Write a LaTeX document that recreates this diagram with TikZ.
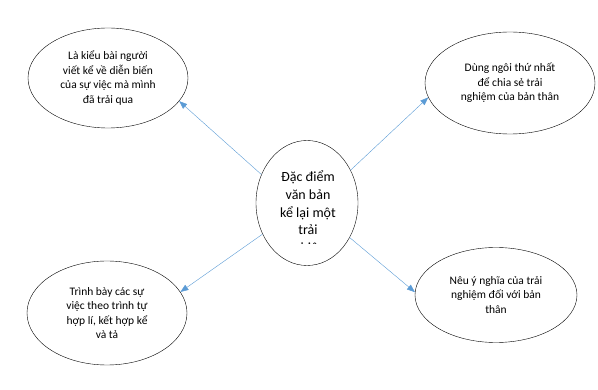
\documentclass[tikz,border=0pt]{standalone}
\usepackage{fontspec}
\setmainfont{Carlito}
\usetikzlibrary{shapes.geometric,arrows.meta}
\definecolor{linkblue}{HTML}{5B9BD5}
\tikzset{
  idea/.style={
    draw,
    ellipse,
    thin,
    inner sep=0pt,
    align=center,
    font=\fontsize{11.5}{14.5}\selectfont
  },
  link/.style={
    draw=linkblue,
    thin,
    -{Triangle[length=8pt,width=6pt]}
  }
}

\begin{document}
\begin{tikzpicture}[
  x=1pt,
  y=-1pt
]
  \useasboundingbox (0,0) rectangle (598,390);
  \node[idea,minimum width=102,minimum height=125] (hub) at (307,203) {};
  \begin{scope}
    \clip (250,150) rectangle (365,243.5);
    \node[align=center,inner sep=0pt,font=\fontsize{14}{17.7}\selectfont] (hubtext) at (308,213)
      {Đặc điểm\\văn bản\\kể lại một\\trải\\nghiệm};
  \end{scope}
  \node[idea,minimum width=160,minimum height=100] (kind) at (108,78)
    {Là kiểu bài người\\viết kể về diễn biến\\của sự việc mà mình\\đã trải qua};
  \node[idea,minimum width=170,minimum height=102] (voice) at (510,83)
    {Dùng ngôi thứ nhất\\để chia sẻ trải\\nghiệm của bản thân};
  \node[idea,minimum width=160,minimum height=104] (order) at (107,313)
    {Trình bày các sự\\việc theo trình tự\\hợp lí, kết hợp kể\\và tả};
  \node[idea,minimum width=162,minimum height=95] (meaning) at (496,295)
    {Nêu ý nghĩa của trải\\nghiệm đối với bản\\thân};
  \draw[link] (hub.148) -- (kind.-18);
  \draw[link] (hub.37) -- (voice.-170);
  \draw[link] (hub.-145) -- (order.16);
  \draw[link] (hub.-39) -- (meaning.178);
\end{tikzpicture}
\end{document}
